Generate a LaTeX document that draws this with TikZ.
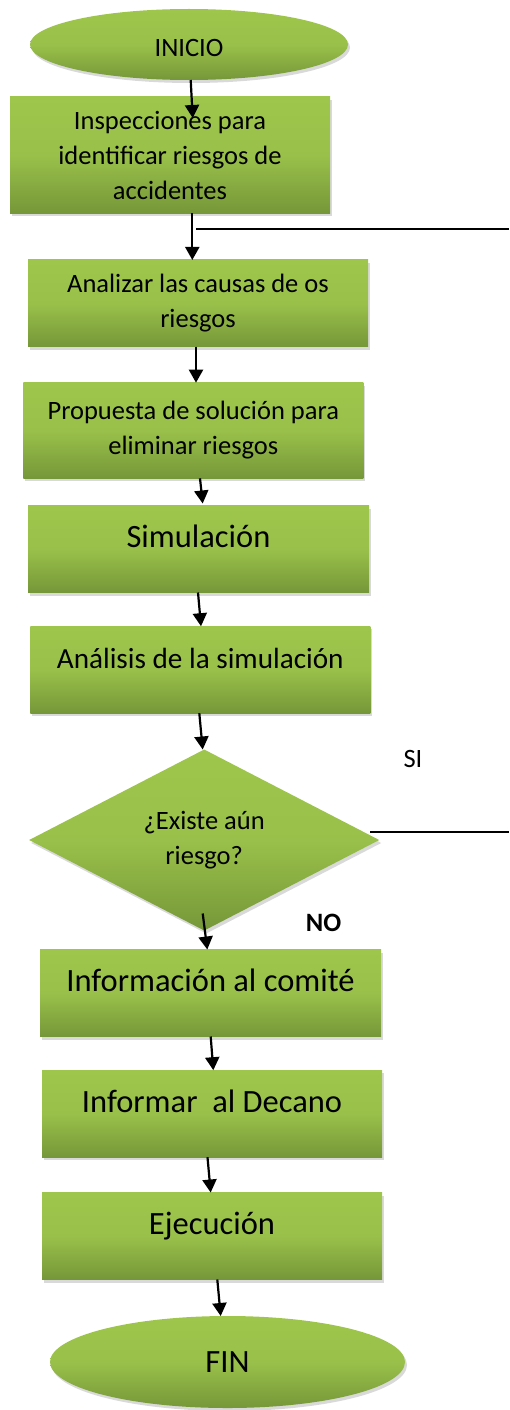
\documentclass[tikz,border=0pt]{standalone}
\usepackage{fontspec}
\setmainfont{Carlito}
\usetikzlibrary{shapes.geometric,shadows,arrows.meta}

\definecolor{verdeclaro}{RGB}{158,198,76}
\definecolor{verdeoscuro}{RGB}{118,151,57}
\newcommand{\letrachica}{\fontsize{26.5}{35}\selectfont}
\newcommand{\letramedia}{\fontsize{29.2}{35}\selectfont}
\newcommand{\letragrande}{\fontsize{32.5}{39}\selectfont}

\begin{document}
\begin{tikzpicture}[x=1pt,y=-1pt,
    verde/.style={top color=verdeclaro,bottom color=verdeoscuro,middle color=verdeclaro!88!verdeoscuro,
      draw=none,inner sep=0pt,outer sep=0pt,
      drop shadow={shadow xshift=2pt,shadow yshift=-3pt,opacity=0.3}},
    caja/.style={verde,rectangle,minimum width=340pt,minimum height=87pt,align=center},
    cajachica/.style={caja,font=\letrachica},
    cajagrande/.style={caja,font=\letragrande,text height=24pt,text depth=27pt},
    ovalo/.style={verde,ellipse},
    rombo/.style={verde,diamond,aspect=1.93,minimum width=350pt,minimum height=181pt,
      align=center,font=\letrachica},
    flecha/.style={line width=2.2pt,-{Triangle[width=14pt,length=13pt]}},
    retorno/.style={line width=1.3pt}]
    \useasboundingbox (0,0) rectangle (509,1410);
    % inicio
    \node (inicio) at (189,44.5) [ovalo,minimum width=318pt,minimum height=71pt,font=\letrachica,text height=25pt] {INICIO};
    % pasos
    \node (insp) at (170,155) [cajachica,minimum width=320pt,minimum height=116pt] {Inspecciones para\\identificar riesgos de\\accidentes};
    \node (causas) at (198,303.3) [cajachica,minimum height=86.7pt] {Analizar las causas de os\\riesgos};
    \node (propuesta) at (193.3,430.5) [cajachica,minimum height=95.6pt] {Propuesta de solución para\\eliminar riesgos};
    \node (sim) at (198.5,549) [cajagrande,minimum width=341pt] {Simulación};
    \node (analisis) at (200.3,669.7) [cajagrande,font=\letramedia] {Análisis de la simulación};
    % decision
    \node (riesgo) at (204.2,840) [rombo] {¿Existe aún\\riesgo?};
    \node (si) at (413,759) [font=\letrachica] {SI};
    \node (no) at (323.5,922.5) [fill=white,minimum width=93pt,minimum height=51pt,inner sep=0pt,font=\letrachica\bfseries] {NO};
    % informes
    \node (info) at (210.5,993) [cajagrande,minimum width=341pt] {Información al comité};
    \node (decano) at (212,1113.7) [cajagrande] {Informar\ \ al Decano};
    \node (ejec) at (212,1236) [cajagrande] {Ejecución};
    % fin
    \node (fin) at (227.5,1362) [ovalo,minimum width=355pt,minimum height=92pt,font=\letragrande] {FIN};
    % flechas
    \draw[flecha] ([xshift=1.7pt]inicio.south) -- ([xshift=22.7pt,yshift=-21pt]insp.north);
    \draw[flecha] ([xshift=22.3pt]insp.south) -- ([xshift=-5.7pt]causas.north);
    \draw[flecha] ([xshift=-2pt]causas.south) -- ([xshift=2.7pt]propuesta.north);
    \draw[flecha] ([xshift=6.7pt]propuesta.south) -- ([xshift=4.2pt,yshift=2pt]sim.north);
    \draw[flecha] ([xshift=-0.5pt]sim.south) -- ([xshift=0.7pt]analisis.north);
    \draw[flecha] ([xshift=-1pt]analisis.south) -- ([xshift=-1.5pt]riesgo.north);
    \draw[flecha] ([xshift=-1.5pt,yshift=17pt]riesgo.south) -- ([xshift=-3.2pt]info.north);
    \draw[flecha] ([xshift=0.2pt]info.south) -- ([xshift=1.3pt]decano.north);
    \draw[flecha] ([xshift=-4.5pt]decano.south) -- ([xshift=-1.3pt]ejec.north);
    \draw[flecha] ([xshift=5.3pt]ejec.south) -- ([xshift=-6.8pt]fin.north);
    % lineas de retorno
    \coordinate (regreso) at (196,229);
    \coordinate (bordesup) at (509,229);
    \coordinate (bordeinf) at (509,832);
    \draw[retorno] (regreso) -- (bordesup);
    \draw[retorno] ([xshift=-9pt,yshift=8pt]riesgo.east) -- (bordeinf);
\end{tikzpicture}
\end{document}
